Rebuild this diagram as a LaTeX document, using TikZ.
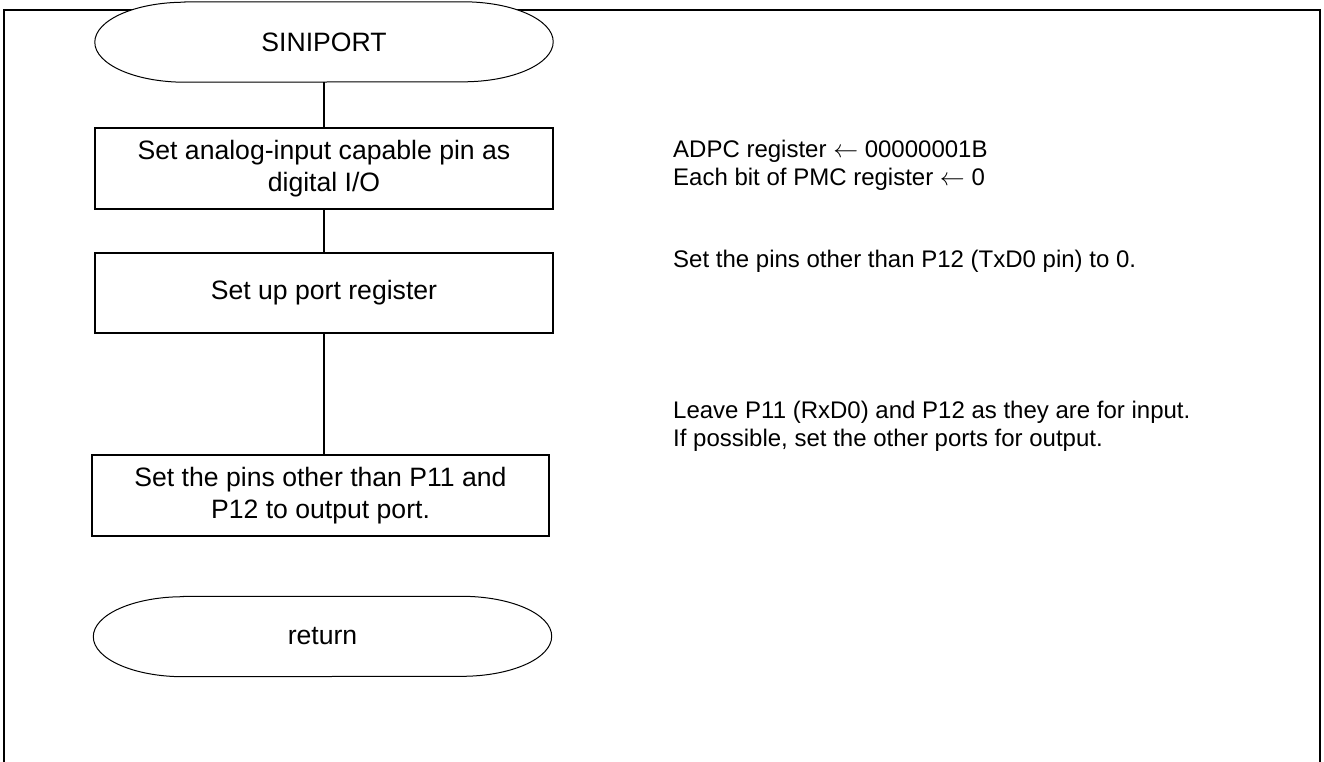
\documentclass[tikz,border=0pt]{standalone}
\usepackage{fontspec}
\setmainfont{Liberation Sans}
\usetikzlibrary{positioning,backgrounds,calc}

\newcommand{\boxfont}{\fontsize{26.6}{32}\selectfont}
\newcommand{\notefont}{\fontsize{24}{28}\selectfont}

\tikzset{
  proc/.style={draw, line width=1.6pt, minimum width=458pt, minimum height=81pt,
    inner sep=0pt, align=center, font=\boxfont},
  term/.style={minimum width=458pt, minimum height=80pt, inner sep=0pt, font=\boxfont},
  note/.style={anchor=base west, inner sep=0pt, align=left, font=\notefont},
  flow/.style={line width=2pt},
  frame/.style={line width=2.5pt},
}

\begin{document}
\begin{tikzpicture}[x=1pt,y=-1pt]
\useasboundingbox (0,0) rectangle (1324,761);

% flow chart
\node[term] (start) at (324,42) {SINIPORT};
\node[proc] (anaset) at (324,168.5) {Set analog-input capable pin as\\digital I/O};
\node[proc, minimum height=80pt] (portset) at (324,293) {Set up port register};
\node[proc, minimum width=457pt] (outset) at (320.5,495.5) {Set the pins other than P11 and\\P12 to output port.};
\node[term] (stop) at (322.5,636.5) {return};

% comments (base = last line)
\node[note] (adpcnote) at (673,185) {ADPC register $\leftarrow$ 00000001B\\Each bit of PMC register $\leftarrow$ 0};
\node[note] (pnote) at (673,267) {Set the pins other than P12 (TxD0 pin) to 0.};
\node[note] (pmnote) at (673,446) {Leave P11 (RxD0) and P12 as they are for input.\\If possible, set the other ports for output.};

\draw[flow] (start) -- (anaset);
\draw[flow] (anaset) -- (portset);
\draw[flow] (portset.south) -- (portset.south |- outset.north);

\begin{pgfonlayer}{background}
  \draw[frame] (4,765) -- (4,10) -- (1320,10) -- (1320,765);
  \foreach \t in {start,stop}
    \draw[line width=1pt, fill=white]
      ($(\t.north west)+(90,0)$) -- ($(\t.north east)+(-90,0)$)
      arc[start angle=90, end angle=-90, x radius=90pt, y radius=40pt]
      -- ($(\t.south west)+(90,0)$)
      arc[start angle=270, end angle=90, x radius=90pt, y radius=40pt] -- cycle;
\end{pgfonlayer}
\end{tikzpicture}
\end{document}
